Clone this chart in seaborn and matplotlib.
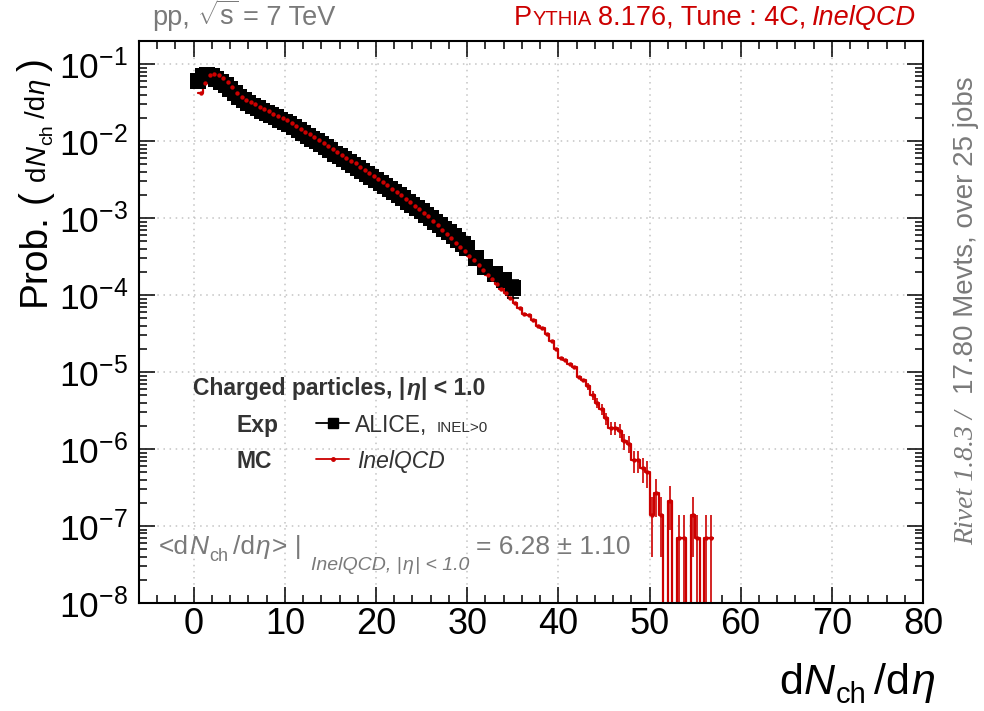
import numpy as np
import pandas as pd
import matplotlib
matplotlib.use('Agg')
import matplotlib.pyplot as plt
from matplotlib.lines import Line2D
from matplotlib.ticker import LogLocator, NullFormatter
import seaborn as sns

# ---- data ----
# MC (Pythia 8.176, InelQCD): histogram, bins of width 0.5, left edges 0.5 .. 56.5
mc_prob = [0.0417, 0.0562, 0.0724, 0.0741, 0.0724, 0.0661, 0.0589, 0.0501, 0.0427, 0.0372,
           0.0347, 0.0324, 0.0302, 0.0279, 0.0260, 0.0243, 0.0226, 0.0214, 0.0200, 0.0186,
           0.0172, 0.0158, 0.0145, 0.0133, 0.0123, 0.0112, 0.0102, 0.00955, 0.00871, 0.00794,
           0.00724, 0.00668, 0.00610, 0.00556, 0.00513, 0.00468, 0.00427, 0.00389, 0.00355, 0.00324,
           0.00295, 0.00266, 0.00240, 0.00219, 0.00200, 0.00178, 0.00162, 0.00145, 0.00130, 0.00117,
           0.00105, 9.12e-4, 8.13e-4, 7.08e-4, 6.31e-4, 5.50e-4, 4.79e-4, 4.17e-4, 3.72e-4, 3.24e-4,
           2.82e-4, 2.45e-4, 2.09e-4, 1.82e-4, 1.62e-4, 1.38e-4, 1.20e-4, 1.07e-4, 9.12e-5, 7.94e-5,
           6.76e-5, 5.75e-5, 5.50e-5, 4.68e-5, 3.98e-5, 3.72e-5, 3.09e-5, 2.51e-5, 2.00e-5, 1.51e-5,
           1.45e-5, 1.26e-5, 1.17e-5, 8.7e-6, 7.9e-6,
           6.6e-6, 5.0e-6, 4.0e-6, 3.3e-6, 2.5e-6, 1.86e-6, 1.86e-6, 1.74e-6, 1.26e-6, 1.17e-6,
           7.1e-7, 7.1e-7, 5.6e-7, 5.0e-7, 1.4e-7, 2.7e-7, 1.4e-7, 0.0, 2.1e-7, 0.0,
           7e-8, 7e-8, 0.0, 1.4e-7, 7e-8, 0.0, 7e-8, 7e-8]
# MC errors, only visible in the tail (bins from 43.0 on)
mc_err_tail = [0.7e-6, 0.6e-6, 0.55e-6, 0.5e-6, 0.42e-6, 0.36e-6, 0.36e-6, 0.35e-6, 0.3e-6, 0.29e-6,
               2.2e-7, 2.2e-7, 2.0e-7, 1.9e-7, 1.0e-7, 1.4e-7, 1.0e-7, 0.0, 1.2e-7, 0.0,
               7e-8, 7e-8, 0.0, 1.0e-7, 7e-8, 0.0, 7e-8, 7e-8]

# ALICE INEL>0 data points
alice_x = list(np.arange(0.5, 30.01, 0.5)) + [31, 32, 33, 34, 35]
alice_prob = [0.061, 0.071, 0.073, 0.070, 0.065, 0.059, 0.054, 0.048, 0.042, 0.037,
              0.034, 0.0315, 0.029, 0.027, 0.025, 0.0234, 0.0218, 0.0204, 0.0191, 0.0178,
              0.0165, 0.0152, 0.0140, 0.0129, 0.0118, 0.0108, 0.0099, 0.0091, 0.0083, 0.0076,
              0.0069, 0.0064, 0.0058, 0.0053, 0.0049, 0.0045, 0.0041, 0.0037, 0.0034, 0.0031,
              0.0029, 0.0026, 0.0024, 0.0022, 0.0020, 0.00180, 0.00164, 0.00148, 0.00134, 0.00122,
              0.00110, 0.00099, 0.00090, 0.00081, 0.00073, 0.00066, 0.00058, 0.00052, 0.00046, 0.00041,
              3.0e-4, 2.3e-4, 1.9e-4, 1.55e-4, 1.25e-4]
alice_err_tail = [2.0e-5, 2.2e-5, 2.5e-5, 2.8e-5, 3.2e-5]  # last five points

xtick_vals = [0, 10, 20, 30, 40, 50, 60, 70, 80]
xtick_labels = ['0', '10', '20', '30', '40', '50', '60', '70', '80']
ytick_vals = [1e-8, 1e-7, 1e-6, 1e-5, 1e-4, 1e-3, 1e-2, 1e-1]
ytick_labels = [r'$\mathregular{10^{-%d}}$' % k for k in [8, 7, 6, 5, 4, 3, 2, 1]]

RED = '#cc0000'
GRAY = '#7a7a7a'
DARK = '#333333'
FONT = 'Liberation Sans'

sns.set_theme(style='ticks')
plt.rcParams['font.family'] = [FONT, 'DejaVu Sans']
plt.rcParams['mathtext.fontset'] = 'custom'
plt.rcParams['mathtext.rm'] = FONT
plt.rcParams['mathtext.it'] = FONT + ':italic'
plt.rcParams['mathtext.bf'] = FONT + ':bold'

W, H = 984, 711
fig = plt.figure(figsize=(W / 100, H / 100), dpi=100)
ax = fig.add_axes([139 / W, 1 - 603 / H, 784 / W, 562 / H])

mc_prob = np.array(mc_prob)
mc_lo = np.arange(0.5, 57.0, 0.5)
mc_mid = mc_lo + 0.25
mc_err = np.array([0.0] * (len(mc_prob) - len(mc_err_tail)) + mc_err_tail)

# step line of the MC histogram
step_df = pd.DataFrame({'x': list(mc_lo) + [57.0], 'y': list(mc_prob) + [mc_prob[-1]]})
sns.lineplot(data=step_df, x='x', y='y', drawstyle='steps-post', color=RED, lw=1.6,
             estimator=None, sort=False, ax=ax)
nz = mc_prob > 0
sns.scatterplot(x=mc_mid[nz], y=mc_prob[nz], color=RED, s=10, linewidth=0, ax=ax, zorder=4)
ex = mc_err > 0
ax.errorbar(mc_mid[ex], mc_prob[ex], yerr=mc_err[ex], fmt='none', ecolor=RED, elinewidth=1.2)

# ALICE points
sns.scatterplot(x=alice_x, y=alice_prob, marker='s', s=135, color='black', edgecolor='black',
                linewidth=0, ax=ax, zorder=3)
ax.errorbar(alice_x[-5:], alice_prob[-5:], yerr=alice_err_tail, fmt='none', ecolor='black',
            elinewidth=1.2, capsize=4.5, capthick=1.2, zorder=3)

ax.set_yscale('log', nonpositive='clip')
ax.set_xlim(-6, 80)
ax.set_ylim(1e-8, 0.2)
ax.set_xlabel('')
ax.set_ylabel('')

ax.set_xticks(xtick_vals)
ax.set_xticklabels(xtick_labels, fontsize=26)
ax.set_xticks(np.arange(-4, 81, 2), minor=True)
ax.set_yticks(ytick_vals)
ax.set_yticklabels(ytick_labels, fontsize=25.5)
ax.yaxis.set_minor_locator(LogLocator(base=10, subs=np.arange(2, 10), numticks=20))
ax.yaxis.set_minor_formatter(NullFormatter())
ax.tick_params(which='both', direction='in', top=True, right=True, width=1.1, color='black',
               labelcolor='black')
ax.tick_params(which='major', length=11.5)
ax.tick_params(which='minor', length=5.5)
ax.tick_params(axis='x', which='major', pad=3)
ax.tick_params(axis='y', which='major', pad=8)
for sp in ax.spines.values():
    sp.set_linewidth(1.5)
    sp.set_color('black')
ax.grid(True, which='major', color='#c4c4c4', linestyle=(0, (1, 3)), linewidth=1.1)


def place(pieces, x, y, color, ha='left', rot=0):
    # pieces: (text, size, kwargs, rise_px, gap_px); x, y in pixels from top-left, y = baseline
    rend = fig.canvas.get_renderer()
    arts, pos = [], 0.0
    for s, size, kw, rise, gap in pieces:
        if rot == 0:
            t = fig.text((x + pos) / W, 1 - (y - rise) / H, s, fontsize=size, color=color,
                         ha='left', va='baseline', **kw)
            pos += t.get_window_extent(rend).width + gap
        else:
            t = fig.text((x - rise) / W, 1 - (y - pos) / H, s, fontsize=size, color=color,
                         rotation=90, rotation_mode='anchor', ha='left', va='baseline', **kw)
            pos += t.get_window_extent(rend).height + gap
        arts.append(t)
    if ha == 'right':
        for t in arts:
            px, py = t.get_position()
            if rot == 0:
                t.set_position((px - pos / W, py))
            else:
                t.set_position((px, py - pos / H))
    return arts


it = {'style': 'italic'}
bd = {'weight': 'bold'}
bdit = {'weight': 'bold', 'style': 'italic'}
no = {}
ETA = '\u03b7'

# header
place([('pp,', 19.5, no, 0, 7), (r'$\sqrt{\mathregular{s}}$', 19.5, no, 0, 5), ('= 7 TeV', 19.5, no, 0, 0)],
      152, 25, GRAY)
place([('P', 19.5, no, 0, 1), ('YTHIA', 14.5, no, 0, 6), ('8.176, Tune : 4C,', 19.5, no, 0, 6),
       ('InelQCD', 19.5, it, 0, 0)], 916, 25, RED, ha='right')

# axis titles
place([('d', 31, no, 0, 0), ('N', 31, it, 0, 1), ('ch', 21, no, -9, 8), ('/d', 31, no, 0, 1),
       (ETA, 31, it, 0, 0)], 935, 694, 'black', ha='right')
place([('Prob.', 28, no, 0, 10), ('(', 28, no, 0, 9), ('d', 20, no, 0, 0), ('N', 20, it, 0, 1),
       ('ch', 14, no, -7, 6), ('/d', 20, no, 0, 1), (ETA, 20, it, 0, 8), (')', 28, no, 0, 0)],
      45, 306, 'black', rot=90)

# legend block
place([('Charged particles, |', 16.5, bd, 0, 1), (ETA, 16.5, bdit, 0, 1), ('| < 1.0', 16.5, bd, 0, 0)],
      193, 395, DARK)
place([('Exp', 16.5, bd, 0, 0)], 237, 432, DARK)
place([('MC', 16.5, bd, 0, 0)], 237, 468, DARK)
place([('ALICE,', 16.5, no, 0, 9), ('INEL>0', 11, no, 0, 0)], 355, 432, DARK)
place([('InelQCD', 16.5, it, 0, 0)], 357, 468, DARK)
fig.add_artist(Line2D([316 / W, 349 / W], [1 - 423 / H] * 2, color='black', lw=1.3))
fig.add_artist(Line2D([333 / W], [1 - 423 / H], color='black', marker='s', markersize=7.5, lw=0))
fig.add_artist(Line2D([316 / W, 349 / W], [1 - 459 / H] * 2, color=RED, lw=1.3))
fig.add_artist(Line2D([333 / W], [1 - 459 / H], color=RED, marker='o', markersize=2.5, lw=0))

# mean value
place([('<d', 19, no, 0, 0), ('N', 19, it, 0, 1), ('ch', 13, no, -7, 5), ('/d', 19, no, 0, 1),
       (ETA, 19, it, 0, 1), ('> |', 19, no, 0, 10), ('InelQCD, |', 14, it, -16, 1),
       (ETA, 14, it, -16, 1), ('| < 1.0', 14, it, -16, 7),
       ('= 6.28 \u00b1 1.10', 19, no, 0, 0)], 159, 554, GRAY)

# side label
place([('Rivet 1.8.3 /', 20, {'family': 'Liberation Serif', 'style': 'italic'}, 0, 16),
       ('17.80 Mevts, over 25 jobs', 20, no, 0, 0)], 973, 545, GRAY, rot=90)

fig.savefig('out.png', dpi=100)
